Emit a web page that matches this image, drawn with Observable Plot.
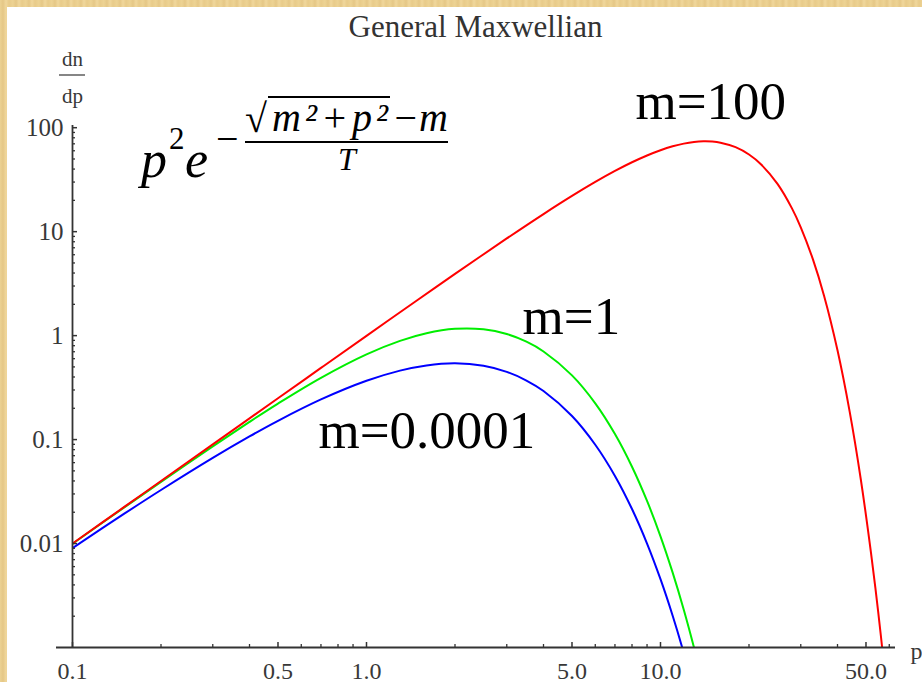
<!DOCTYPE html>
<html><head><meta charset="utf-8">
<script src="https://cdn.jsdelivr.net/npm/d3@7"></script>
<script src="https://cdn.jsdelivr.net/npm/@observablehq/plot@0.6"></script>
<style>
html,body{margin:0;padding:0;}
body{width:922px;height:682px;overflow:hidden;background:#ebcf8f;position:relative;}
#frame{position:absolute;left:0;top:0;width:922px;height:682px;
  background:repeating-linear-gradient(90deg,#ecd293 0px,#e5c786 3px,#f0d79c 6px,#e8cb8a 9px,#edd394 13px);}
#panel{position:absolute;left:7px;top:7px;width:915px;height:675px;background:#fff;}
#overlay{position:absolute;left:0;top:0;pointer-events:none;}
</style></head><body>
<div id="frame"><div id="panel"></div></div>
<script>
// ---- data ----
const title = "General Maxwellian";
const yAxisLabelTop = "dn";
const yAxisLabelBottom = "dp";
const xAxisLabel = "p";

const seriesNames = ["m=0.0001", "m=1", "m=100"];
const seriesColors = ["#0000ff", "#00ee00", "#ff0000"];

const pLow = [0.1, 0.15, 0.2, 0.3, 0.4, 0.5, 0.7, 1, 1.3, 1.6, 2, 2.5, 3, 3.5, 4, 5, 6, 7, 8, 9, 10, 11, 12, 13, 14];
const dnM0001 = [0.00905, 0.01937, 0.03275, 0.06667, 0.1073, 0.1516, 0.2433, 0.3679, 0.4606, 0.5169, 0.5413, 0.5130, 0.4481, 0.3699, 0.2931, 0.1685, 0.0892, 0.0447, 0.02147, 0.0100, 0.00454, 0.00202, 0.000885, 0.000382, 0.000163];
const dnM1 = [0.00995, 0.02225, 0.03922, 0.08612, 0.1481, 0.2222, 0.3930, 0.6609, 0.8910, 1.0546, 1.1621, 1.1502, 1.0356, 0.8741, 0.7043, 0.4147, 0.2233, 0.1131, 0.05484, 0.02571, 0.01174, 0.00525, 0.00231, 0.000999, 0.000427];

const pHigh = [0.1, 0.15, 0.2, 0.3, 0.5, 0.7, 1, 1.5, 2, 3, 4, 5, 6, 7, 8, 9, 10, 11, 12, 13, 14, 15, 16, 18, 20, 22, 25, 28, 30, 33, 36, 40, 44, 48, 52, 55, 58];
const dnM100 = [0.0100, 0.02250, 0.03999, 0.08996, 0.2497, 0.4888, 0.9950, 2.2248, 3.9208, 8.604, 14.770, 22.064, 30.07, 38.36, 46.50, 54.07, 60.73, 66.19, 70.27, 72.85, 73.91, 73.51, 71.75, 64.95, 55.21, 44.29, 28.79, 16.75, 11.02, 5.412, 2.422, 0.7222, 0.1857, 0.04154, 0.00813, 0.002215, 0.000563];

const xDomain = [0.1, 63];
const yDomain = [0.001, 105];
const xTickValues = [0.1, 0.5, 1, 5, 10, 50];
const xTickLabels = ["0.1", "0.5", "1.0", "5.0", "10.0", "50.0"];
const xMinorTicks = [0.2, 0.3, 0.4, 0.6, 0.7, 0.8, 0.9, 2, 3, 4, 6, 7, 8, 9, 20, 30, 40, 60];
const yTickValues = [0.01, 0.1, 1, 10, 100];
const yTickLabels = ["0.01", "0.1", "1", "10", "100"];
const yMinorTicks = [0.002, 0.003, 0.004, 0.005, 0.006, 0.007, 0.008, 0.009,
  0.02, 0.03, 0.04, 0.05, 0.06, 0.07, 0.08, 0.09,
  0.2, 0.3, 0.4, 0.5, 0.6, 0.7, 0.8, 0.9,
  2, 3, 4, 5, 6, 7, 8, 9,
  20, 30, 40, 50, 60, 70, 80, 90];

// label anchors (data coordinates)
const labelP = [0.6866, 3.395, 8.22];
const labelDn = [0.0839, 1.048, 122.6];

// ---- build tables ----
const rows = [];
pLow.forEach((p, i) => rows.push({series: seriesNames[0], p, dn: dnM0001[i]}));
pLow.forEach((p, i) => rows.push({series: seriesNames[1], p, dn: dnM1[i]}));
pHigh.forEach((p, i) => rows.push({series: seriesNames[2], p, dn: dnM100[i]}));
const labels = seriesNames.map((s, i) => ({text: s, p: labelP[i], dn: labelDn[i]}));

const W = 915, H = 675;
const mL = 65, mR = 27, mT = 118, mB = 35;
const fw = W - mL - mR, fh = H - mT - mB;
const axisColor = "#333";
const serif = "'Liberation Serif', 'Times New Roman', serif";

const chart = Plot.plot({
  width: W, height: H,
  marginLeft: mL, marginRight: mR, marginTop: mT, marginBottom: mB,
  style: {background: "transparent", fontFamily: serif, overflow: "visible"},
  x: {type: "log", domain: xDomain, axis: null},
  y: {type: "log", domain: yDomain, axis: null},
  color: {domain: seriesNames, range: seriesColors},
  marks: [
    Plot.line(rows, {x: "p", y: "dn", z: "series", stroke: "series", strokeWidth: 2, curve: "catmull-rom", clip: true}),
    // axes lines
    Plot.ruleY([yDomain[0]], {stroke: axisColor, strokeWidth: 1.8, insetLeft: -16}),
    Plot.ruleX([xDomain[0]], {stroke: axisColor, strokeWidth: 1.8}),
    // ticks
    Plot.tickX(xMinorTicks, {x: d => d, stroke: axisColor, strokeWidth: 1.3, insetTop: fh - 3}),
    Plot.tickX(xTickValues, {x: d => d, stroke: axisColor, strokeWidth: 1.5, insetTop: fh - 5}),
    Plot.tickY(yMinorTicks, {y: d => d, stroke: axisColor, strokeWidth: 1.3, insetRight: fw - 3}),
    Plot.tickY(yTickValues, {y: d => d, stroke: axisColor, strokeWidth: 1.5, insetRight: fw - 5}),
    // tick labels
    Plot.text(xTickValues, {x: d => d, text: (d, i) => xTickLabels[i], frameAnchor: "bottom", lineAnchor: "bottom", dy: 31, fontSize: 24, fill: "#383838"}),
    Plot.text(yTickValues, {y: d => d, text: (d, i) => yTickLabels[i], frameAnchor: "left", textAnchor: "end", dx: -9, fontSize: 25, fill: "#383838"}),
    // axis labels
    Plot.text([xAxisLabel], {frameAnchor: "bottom-right", textAnchor: "start", lineAnchor: "bottom", dx: 15, dy: 11, fontSize: 24, fill: "#383838"}),
    Plot.text([yAxisLabelTop], {frameAnchor: "top-left", textAnchor: "middle", lineAnchor: "bottom", dx: 0, dy: -60, fontSize: 21, fill: "#383838"}),
    Plot.text([yAxisLabelBottom], {frameAnchor: "top-left", textAnchor: "middle", lineAnchor: "bottom", dx: 0, dy: -23, fontSize: 21, fill: "#383838"}),
    // title
    Plot.text([title], {frameAnchor: "top", lineAnchor: "bottom", dx: -8.5, dy: -89, fontSize: 31, fill: "#333"}),
    // series labels
    Plot.text(labels, {x: "p", y: "dn", text: "text", textAnchor: "start", lineAnchor: "bottom", fontSize: 53, fill: "#000"})
  ]
});
chart.style.position = "absolute";
chart.style.left = "0px";
chart.style.top = "0px";
document.getElementById("panel").appendChild(chart);

// fraction bar for the dn/dp label, attached to the chart svg
d3.select(chart).append("line")
  .attr("x1", mL - 13).attr("x2", mL + 13).attr("y1", mT - 50).attr("y2", mT - 50)
  .attr("stroke", "#444").attr("stroke-width", 1.3);

// ---- formula overlay ----
const ov = d3.select("body").append("svg").attr("id", "overlay").attr("width", 922).attr("height", 682);
const mathFont = "'Liberation Serif', 'DejaVu Serif', serif";
function t(x, y, s, size, italic, extra) {
  const el = ov.append("text").attr("x", x).attr("y", y).attr("font-family", mathFont)
    .attr("font-size", size).attr("font-style", italic ? "italic" : "normal").attr("fill", "#000").text(s);
  if (extra) for (const k in extra) el.attr(k, extra[k]);
  return el;
}
t(141, 177, "p", 52, true);
t(169, 149, "2", 31, false);
t(185, 177, "e", 52, true);
t(216, 152, "\u2212", 40, false);
t(245, 132, "\u221A", 40, false);
ov.append("line").attr("x1", 268).attr("x2", 390).attr("y1", 97).attr("y2", 97).attr("stroke", "#000").attr("stroke-width", 2);
t(272, 131, "m\u00B2+p\u00B2", 40, true, {textLength: 116, lengthAdjust: "spacing"});
t(392, 131, "\u2212m", 40, true, {textLength: 56, lengthAdjust: "spacing"});
ov.append("line").attr("x1", 245).attr("x2", 448).attr("y1", 142).attr("y2", 142).attr("stroke", "#000").attr("stroke-width", 2);
t(347, 170, "T", 32, true, {"text-anchor": "middle"});
</script>
</body></html>
